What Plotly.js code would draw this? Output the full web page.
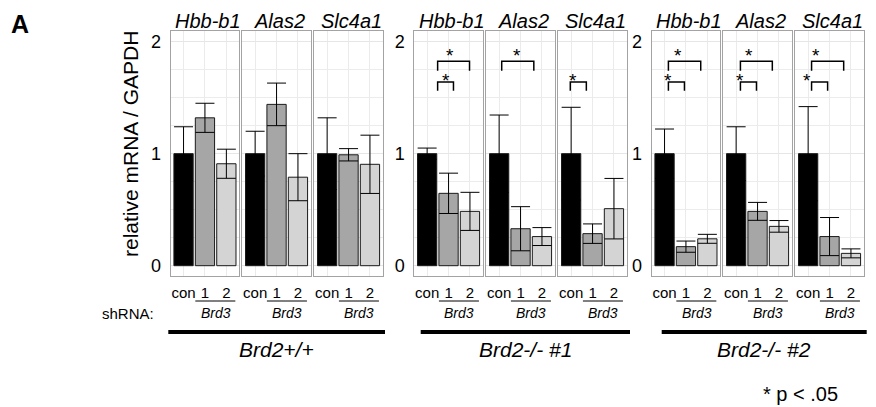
<!DOCTYPE html>
<html>
<head>
<meta charset="utf-8">
<script src="https://cdn.plot.ly/plotly-3.0.1.min.js"></script>
<style>
  html, body { margin: 0; padding: 0; background: #fff; }
  #chart { width: 876px; height: 407px; }
</style>
</head>
<body>
<div id="chart"></div>
<script>
// ---------------- DATA ----------------
const genes = ['Hbb-b1', 'Alas2', 'Slc4a1'];
const groups = ['Brd2+/+', 'Brd2-/- #1', 'Brd2-/- #2'];
const conditions = ['con', '1', '2'];
const shrnaTarget = 'Brd3';
const yTicks = [0, 1, 2];

// relative mRNA / GAPDH, one row per gene: [con, shBrd3 #1, shBrd3 #2]
const brd2wtMean = [[1, 1.32, 0.91], [1, 1.44, 0.79], [1, 0.99, 0.905]];
const brd2wtErr  = [[0.24, 0.13, 0.13], [0.20, 0.19, 0.21], [0.32, 0.055, 0.26]];
const brd2ko1Mean = [[1, 0.646, 0.485], [1, 0.33, 0.26], [1, 0.286, 0.509]];
const brd2ko1Err  = [[0.05, 0.18, 0.17], [0.345, 0.197, 0.08], [0.414, 0.087, 0.27]];
const brd2ko2Mean = [[1, 0.17, 0.24], [1, 0.485, 0.351], [1, 0.26, 0.11]];
const brd2ko2Err  = [[0.22, 0.05, 0.04], [0.24, 0.08, 0.052], [0.42, 0.17, 0.04]];

// significance marks: panel index (0..8), bracket level, bracket start / end, star position (axis units)
const sigPanel = [3, 3, 4, 5, 6, 6, 7, 7, 8, 8];
const sigLevel = ['low', 'high', 'high', 'low', 'low', 'high', 'low', 'high', 'low', 'high'];
const sigStart = [1.49, 1.49, 1.12, 0.96, 1.18, 1.18, 1.20, 1.20, 1.16, 1.16];
const sigEnd   = [2.23, 2.98, 2.62, 1.71, 1.93, 2.69, 1.95, 2.69, 1.91, 2.66];
const sigStar  = [1.87, 2.09, 1.84, 1.10, 1.18, 1.62, 1.16, 1.62, 0.93, 1.37];
const sigNote = '* p < .05';

// ---------------- LAYOUT HELPERS ----------------
const W = 876, H = 407;
const px = x => x / W;
const py = y => 1 - y / H;
const FONT = 'Liberation Sans, Arial, Helvetica, sans-serif';
const panelLeft = [170.7, 242.3, 314.3, 414.3, 486.3, 558.3, 651.7, 723.3, 795.3];
const panelW = 68.5;
const panelTop = 31, panelBottom = 276;
const yRange = [-0.092, 2.095];
const xRange = [0.4, 3.6];
const barColors = ['#000000', '#a6a6a6', '#d4d4d4'];
const levelY = { low: [1.64, 1.5625, 1.69], high: [1.824, 1.741, 1.91] };
const groupLine = [[168.3, 385], [420.7, 630], [661.7, 866.7]];

const means = [brd2wtMean, brd2ko1Mean, brd2ko2Mean];
const errs = [brd2wtErr, brd2ko1Err, brd2ko2Err];
const xPos = conditions.map((c, i) => i + 1);

const traces = [];
const layout = {
  width: W, height: H,
  margin: { l: 0, r: 0, t: 0, b: 0 },
  paper_bgcolor: '#ffffff',
  plot_bgcolor: '#ffffff',
  showlegend: false,
  font: { family: FONT, color: '#000' },
  annotations: [],
  shapes: []
};

for (let p = 0; p < 9; p++) {
  const g = Math.floor(p / 3), k = p % 3;
  const s = p === 0 ? '' : String(p + 1);
  traces.push({
    type: 'bar',
    x: xPos,
    y: means[g][k],
    width: 0.9,
    xaxis: 'x' + s, yaxis: 'y' + s,
    marker: { color: barColors, line: { color: '#1a1a1a', width: 1 } },
    error_y: { type: 'data', array: errs[g][k], symmetric: true, visible: true,
               color: '#000000', thickness: 1, width: 9.5 },
    hoverinfo: 'skip'
  });
  layout['xaxis' + s] = {
    domain: [px(panelLeft[p]), px(panelLeft[p] + panelW)],
    anchor: 'y' + s,
    range: xRange, fixedrange: true,
    tickmode: 'array', tickvals: xPos, ticktext: conditions,
    ticks: '', ticklabelstandoff: 3,
    tickfont: { family: FONT, size: 15, color: '#000' },
    showgrid: true, gridcolor: '#ebebeb', gridwidth: 1,
    zeroline: false,
    showline: true, mirror: true, linecolor: '#a3a3a3', linewidth: 1
  };
  layout['yaxis' + s] = {
    domain: [py(panelBottom), py(panelTop)],
    anchor: 'x' + s,
    range: yRange, fixedrange: true,
    tickmode: 'array', tickvals: yTicks,
    ticks: '', ticklabelstandoff: 5,
    showticklabels: k === 0,
    tickfont: { family: FONT, size: 18, color: '#000' },
    showgrid: true, gridcolor: '#e6e6e6', gridwidth: 1,
    minor: { dtick: 0.25, tick0: 0, showgrid: true, gridcolor: '#ececec', gridwidth: 1 },
    zeroline: false,
    showline: true, mirror: true, linecolor: '#a3a3a3', linewidth: 1
  };
  // gene title
  layout.annotations.push({
    xref: 'x' + s + ' domain', yref: 'paper', x: 0.55, y: py(21),
    text: '<i>' + genes[k] + '</i>', showarrow: false,
    xanchor: 'center', yanchor: 'middle',
    font: { family: FONT, size: 20, color: '#000' }
  });
  // underline for shRNA 1/2
  layout.shapes.push({
    type: 'line', xref: 'x' + s, yref: 'paper',
    x0: 1.55, x1: 3.42, y0: py(301), y1: py(301),
    line: { color: '#000', width: 1 }
  });
  layout.annotations.push({
    xref: 'x' + s, yref: 'paper', x: 2.5, y: py(313),
    text: '<i>' + shrnaTarget + '</i>', showarrow: false,
    xanchor: 'center', yanchor: 'middle',
    font: { family: FONT, size: 14, color: '#000' }
  });
}

// significance brackets and stars
sigPanel.forEach((p, i) => {
  const s = p === 0 ? '' : String(p + 1);
  const lv = levelY[sigLevel[i]];
  layout.shapes.push({
    type: 'path', xref: 'x' + s, yref: 'y' + s,
    path: `M ${sigStart[i]} ${lv[1]} L ${sigStart[i]} ${lv[0]} L ${sigEnd[i]} ${lv[0]} L ${sigEnd[i]} ${lv[1]}`,
    line: { color: '#000', width: 1.5 }
  });
  layout.annotations.push({
    xref: 'x' + s, yref: 'y' + s, x: sigStar[i], y: lv[2],
    text: '*', showarrow: false, xanchor: 'center', yanchor: 'middle', yshift: -4,
    font: { family: FONT, size: 19, color: '#000' }
  });
});

// group bars and labels
groups.forEach((gname, g) => {
  const [a, b] = groupLine[g];
  layout.shapes.push({
    type: 'line', xref: 'paper', yref: 'paper',
    x0: px(a), x1: px(b), y0: py(332), y1: py(332),
    line: { color: '#000', width: 4 }
  });
  layout.annotations.push({
    xref: 'paper', yref: 'paper', x: px((a + b) / 2), y: py(349),
    text: '<i>' + gname + '</i>', showarrow: false,
    xanchor: 'center', yanchor: 'middle',
    font: { family: FONT, size: 21, color: '#000' }
  });
});

// other labels
layout.annotations.push(
  { xref: 'paper', yref: 'paper', x: px(128), y: py(313), text: 'shRNA:', showarrow: false,
    xanchor: 'center', yanchor: 'middle', font: { family: FONT, size: 15, color: '#000' } },
  { xref: 'paper', yref: 'paper', x: px(130), y: py(144), text: 'relative mRNA / GAPDH', showarrow: false,
    textangle: -90, xanchor: 'center', yanchor: 'middle', font: { family: FONT, size: 21, color: '#000' } },
  { xref: 'paper', yref: 'paper', x: px(20), y: py(24), text: '<b>A</b>', showarrow: false,
    xanchor: 'center', yanchor: 'middle', font: { family: FONT, size: 25, color: '#000' } },
  { xref: 'paper', yref: 'paper', x: px(800), y: py(394), text: sigNote, showarrow: false,
    xanchor: 'center', yanchor: 'middle', font: { family: FONT, size: 20, color: '#000' } }
);

Plotly.newPlot('chart', traces, layout, { staticPlot: true, displayModeBar: false });
</script>
</body>
</html>
